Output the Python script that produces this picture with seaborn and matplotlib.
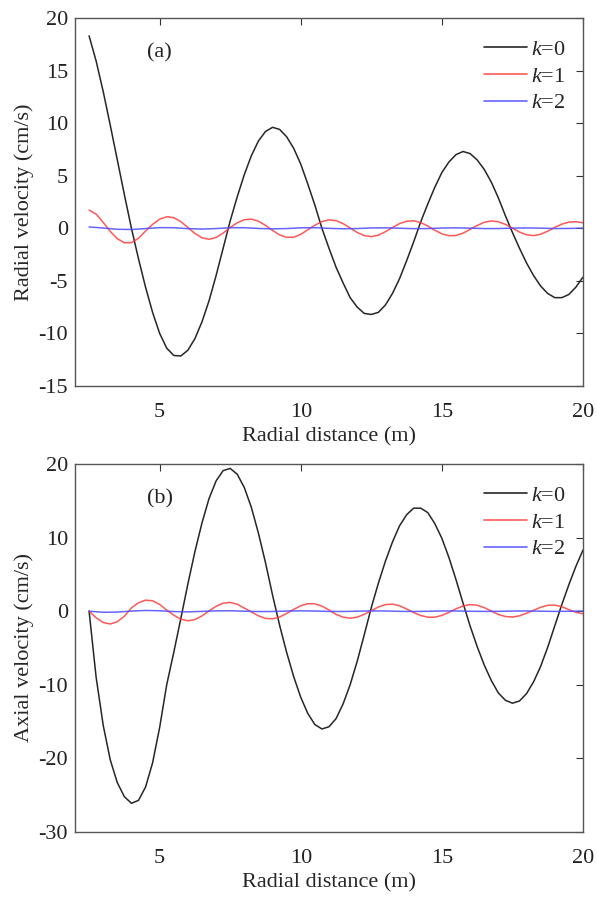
import numpy as np
import pandas as pd
import matplotlib
matplotlib.use("Agg")
import matplotlib.pyplot as plt
import seaborn as sns

# ---------------- data ----------------
x_fine = [2.5, 2.75, 3.0, 3.25, 3.5, 3.75, 4.0, 4.25, 4.5, 4.75, 5.0, 5.25, 5.5, 5.75,
          6.0, 6.25, 6.5, 6.75, 7.0, 7.25, 7.5, 7.75, 8.0, 8.25, 8.5, 8.75, 9.0, 9.25,
          9.5, 9.75, 10.0, 10.25, 10.5, 10.75, 11.0, 11.25, 11.5, 11.75, 12.0, 12.25,
          12.5, 12.75, 13.0, 13.25, 13.5, 13.75, 14.0, 14.25, 14.5, 14.75, 15.0, 15.25,
          15.5, 15.75, 16.0, 16.25, 16.5, 16.75, 17.0, 17.25, 17.5, 17.75, 18.0, 18.25,
          18.5, 18.75, 19.0, 19.25, 19.5, 19.75, 20.0]

x_coarse = [2.5, 3.0, 3.5, 4.0, 4.5, 5.0, 5.5, 6.0, 6.5, 7.0, 7.5, 8.0, 8.5, 9.0, 9.5,
            10.0, 10.5, 11.0, 11.5, 12.0, 12.5, 13.0, 13.5, 14.0, 14.5, 15.0, 15.5,
            16.0, 16.5, 17.0, 17.5, 18.0, 18.5, 19.0, 19.5, 20.0]

# (a) radial velocity
radial_k0 = [18.3, 15.9, 13.0, 9.8, 6.5, 3.2, 0.0, -2.9, -5.6, -8.0, -10.0, -11.4, -12.1, -12.15,
             -11.6, -10.5, -8.9, -6.9, -4.5, -1.9, 0.7, 3.0, 5.1, 6.9, 8.3, 9.2, 9.6, 9.4,
             8.7, 7.6, 6.1, 4.2, 2.2, 0.0, -1.9, -3.7, -5.2, -6.6, -7.5, -8.1,
             -8.2, -8.0, -7.3, -6.2, -4.8, -3.1, -1.3, 0.6, 2.3, 3.9, 5.3, 6.3,
             7.0, 7.3, 7.1, 6.5, 5.6, 4.4, 2.9, 1.2, -0.4, -1.9, -3.3, -4.5,
             -5.5, -6.2, -6.6, -6.6, -6.3, -5.6, -4.65]
radial_k1 = [1.73, 1.34, 0.56, -0.30, -0.99, -1.38, -1.37, -0.96, -0.27, 0.37, 0.86, 1.09, 1.01, 0.63,
             0.07, -0.50, -0.91, -1.05, -0.88, -0.46, 0.07, 0.52, 0.81, 0.87, 0.67, 0.28, -0.21, -0.63,
             -0.86, -0.85, -0.58, -0.15, 0.29, 0.63, 0.80, 0.72, 0.44, 0.03, -0.40, -0.70,
             -0.80, -0.66, -0.33, 0.07, 0.44, 0.67, 0.71, 0.54, 0.21, -0.19, -0.53, -0.71,
             -0.69, -0.47, -0.11, 0.26, 0.56, 0.69, 0.62, 0.37, 0.01, -0.36, -0.62, -0.70,
             -0.57, -0.28, 0.08, 0.39, 0.59, 0.62, 0.52]
radial_k2 = [0.12, 0.02, -0.10, -0.12, -0.03, 0.06, 0.05, -0.04, -0.08, -0.03, 0.05, 0.05, -0.02,
             -0.06, -0.03, 0.04, 0.05, -0.01, -0.05, -0.03, 0.03, 0.04, 0.0, -0.04, -0.03, 0.02,
             0.04, 0.01, -0.03, -0.03, 0.01, 0.03, 0.01, -0.03, -0.02, 0.01]

# (b) axial velocity
axial_k0 = [0.0, -9.0, -15.5, -20.2, -23.3, -25.2, -26.1, -25.7, -23.9, -20.6, -15.8, -10.0, -5.6, -1.0,
            3.7, 8.1, 12.0, 15.3, 17.7, 19.1, 19.4, 18.6, 16.8, 14.1, 10.6, 6.6, 2.2, -1.9,
            -5.6, -8.9, -11.7, -13.9, -15.4, -16.0, -15.7, -14.6, -12.6, -10.0, -6.8, -3.2,
            0.5, 3.8, 6.8, 9.4, 11.6, 13.1, 14.0, 14.0, 13.4, 11.9, 9.9, 7.3,
            4.3, 1.1, -2.0, -4.8, -7.3, -9.4, -11.1, -12.1, -12.5, -12.2, -11.2, -9.6,
            -7.5, -4.9, -2.0, 0.9, 3.6, 6.1, 8.3]
axial_k1 = [0.0, -0.89, -1.54, -1.74, -1.42, -0.69, 0.44, 1.14, 1.50, 1.42, 0.92, 0.15, -0.54, -1.08,
            -1.30, -1.14, -0.64, 0.04, 0.66, 1.09, 1.19, 0.95, 0.42, -0.10, -0.63, -0.98, -1.03, -0.79,
            -0.31, 0.24, 0.74, 1.02, 1.00, 0.69, 0.17, -0.43, -0.81, -0.95, -0.81, -0.43,
            0.07, 0.57, 0.90, 0.96, 0.74, 0.30, -0.18, -0.58, -0.82, -0.82, -0.57, -0.16,
            0.32, 0.71, 0.90, 0.81, 0.49, 0.03, -0.44, -0.72, -0.80, -0.63, -0.28, 0.12,
            0.54, 0.80, 0.83, 0.61, 0.21, -0.15, -0.35]
axial_k2 = [0.0, -0.15, -0.12, 0.02, 0.10, 0.06, -0.05, -0.09, -0.03, 0.05, 0.06, 0.0, -0.05,
            -0.04, 0.02, 0.05, 0.02, -0.03, -0.04, 0.0, 0.04, 0.03, -0.02, -0.04, -0.01, 0.03,
            0.03, -0.01, -0.03, -0.02, 0.02, 0.03, 0.0, -0.03, -0.01, 0.02]

k_labels = ["k=0", "k=1", "k=2"]
legend_labels = [r"$k$=0", r"$k$=1", r"$k$=2"]
x_ticks = [5, 10, 15, 20]
y_ticks_a = [-15, -10, -5, 0, 5, 10, 15, 20]
y_ticks_b = [-30, -20, -10, 0, 10, 20]

# ---------------- style ----------------
sns.set_theme(style="white")
plt.rcParams["font.family"] = ["Liberation Serif", "DejaVu Serif"]
plt.rcParams["mathtext.fontset"] = "custom"
plt.rcParams["mathtext.rm"] = "Liberation Serif"
plt.rcParams["mathtext.it"] = "Liberation Serif:italic"
plt.rcParams["axes.unicode_minus"] = False

FS = 16
palette = {"k=0": "#262626", "k=1": "#ff3b3b", "k=2": "#4a4aff"}


def make_df(k0, k1, k2):
    frames = [
        pd.DataFrame({"x": x_fine, "y": k0, "k": "k=0"}),
        pd.DataFrame({"x": x_fine, "y": k1, "k": "k=1"}),
        pd.DataFrame({"x": x_coarse, "y": k2, "k": "k=2"}),
    ]
    return pd.concat(frames, ignore_index=True)


fig = plt.figure(figsize=(5.97, 8.98), dpi=100)
ax_a = fig.add_axes([0.1256, 0.5702, 0.8509, 0.4098])
ax_b = fig.add_axes([0.1256, 0.0735, 0.8509, 0.4098])

panels = [
    (ax_a, make_df(radial_k0, radial_k1, radial_k2), "Radial velocity (cm/s)", (-15, 20), y_ticks_a, "(a)"),
    (ax_b, make_df(axial_k0, axial_k1, axial_k2), "Axial velocity (cm/s)", (-30, 20), y_ticks_b, "(b)"),
]

for ax, df, ylabel, ylim, yticks, tag in panels:
    sns.lineplot(data=df, x="x", y="y", hue="k", hue_order=k_labels, palette=palette,
                 estimator=None, sort=False, linewidth=1.1, ax=ax, legend=False)
    for line, lab in zip(ax.get_lines(), k_labels):
        line.set_solid_joinstyle("round")
        if lab != "k=0":
            line.set_alpha(0.85)
    ax.set_xlim(2, 20)
    ax.set_ylim(*ylim)
    ax.set_xticks(x_ticks)
    ax.set_yticks(yticks)
    ax.set_xticklabels([str(t) for t in x_ticks])
    ax.set_yticklabels([str(t) for t in yticks])
    ax.set_xlabel("Radial distance (m)", fontsize=FS, labelpad=4)
    ax.set_ylabel(ylabel, fontsize=FS, labelpad=3)
    ax.tick_params(axis="x", pad=12)
    ax.tick_params(axis="y", pad=5)
    ax.tick_params(direction="in", length=5, width=0.8, top=True, right=True,
                   labelsize=FS, colors="#333333", labelcolor="#222222")
    for sp in ax.spines.values():
        sp.set_visible(True)
        sp.set_color("#555555")
        sp.set_linewidth(1.0)
    ax.text(0.167, 0.905, tag, transform=ax.transAxes, fontsize=FS,
            ha="center", va="center", color="#222222")
    handles = [plt.Line2D([], [], color=palette[k], lw=1.2, alpha=(1 if k == "k=0" else 0.85))
               for k in k_labels]
    ax.legend(handles, legend_labels, loc="upper right", frameon=False, fontsize=FS,
              handlelength=1.9, handletextpad=0.2, labelspacing=0.27,
              borderaxespad=0.0, borderpad=0.0, bbox_to_anchor=(0.966, 0.941))

fig.savefig("out.png", dpi=100)
